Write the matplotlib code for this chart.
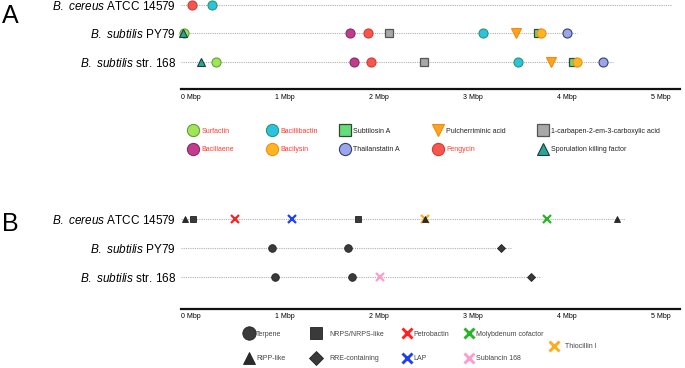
import matplotlib
matplotlib.use('Agg')
import matplotlib.pyplot as plt
from matplotlib.lines import Line2D

plt.rcParams['font.family'] = 'Liberation Sans'
plt.rcParams['mathtext.fontset'] = 'custom'
plt.rcParams['mathtext.it'] = 'Liberation Sans:italic'
plt.rcParams['mathtext.rm'] = 'Liberation Sans'

W, H = 685, 368

strains = [r'$\it{B.\ cereus}$ ATCC 14579', r'$\it{B.\ subtilis}$ PY79', r'$\it{B.\ subtilis}$ str. 168']
mbp_ticks = [0, 1, 2, 3, 4, 5]
mbp_labels = ['0 Mbp', '1 Mbp', '2 Mbp', '3 Mbp', '4 Mbp', '5 Mbp']

# panel A - known compounds (positions in Mbp)
cereus_a_pos = [0.12, 0.33]
cereus_a_cls = ['Fengycin', 'Bacillibactin']
py79_a_pos = [0.035, 0.02, 1.80, 1.99, 2.21, 3.21, 3.56, 3.80, 3.83, 4.11]
py79_a_cls = ['Surfactin', 'Sporulation killing factor', 'Bacillaene', 'Fengycin',
              '1-carbapen-2-em-3-carboxylic acid', 'Bacillibactin', 'Pulcherriminic acid',
              'Subtilosin A', 'Bacilysin', 'Thailanstatin A']
s168_a_pos = [0.37, 0.21, 1.84, 2.02, 2.59, 3.59, 3.94, 4.17, 4.21, 4.49]
s168_a_cls = ['Surfactin', 'Sporulation killing factor', 'Bacillaene', 'Fengycin',
              '1-carbapen-2-em-3-carboxylic acid', 'Bacillibactin', 'Pulcherriminic acid',
              'Subtilosin A', 'Bacilysin', 'Thailanstatin A']
a_line_end = [5.22, 4.21, 4.60]

# panel B - antiSMASH cluster types
cereus_b_pos = [0.04, 0.13, 0.57, 1.18, 1.88, 2.60, 2.60, 3.89, 4.64]
cereus_b_cls = ['RiPP-like', 'NRPS/NRPS-like', 'Petrobactin', 'LAP', 'NRPS/NRPS-like',
                'Thiocillin I', 'RiPP-like', 'Molybdenum cofactor', 'RiPP-like']
py79_b_pos = [0.97, 1.78, 3.40]
py79_b_cls = ['Terpene', 'Terpene', 'RRE-containing']
s168_b_pos = [1.00, 1.82, 2.12, 3.72]
s168_b_cls = ['Terpene', 'Terpene', 'Sublancin 168', 'RRE-containing']
b_line_end = [4.72, 3.52, 3.83]

legend_a_cols = [['Surfactin', 'Bacillaene'], ['Bacillibactin', 'Bacilysin'],
                 ['Subtilosin A', 'Thailanstatin A'], ['Pulcherriminic acid', 'Fengycin'],
                 ['1-carbapen-2-em-3-carboxylic acid', 'Sporulation killing factor']]
legend_b_cols = [['Terpene', 'RiPP-like'], ['NRPS/NRPS-like', 'RRE-containing'],
                 ['Petrobactin', 'LAP'], ['Molybdenum cofactor', 'Sublancin 168'],
                 ['Thiocillin I']]
red_labels = ['Surfactin', 'Bacillibactin', 'Bacillaene', 'Bacilysin', 'Fengycin']

# styles: marker, face, edge, size, edge width, zorder
style = {
    'Surfactin': ('o', '#a3e35a', '#5aa62e', 6.5, 0.8, 3),
    'Bacillibactin': ('o', '#2bc2e6', '#2a9a5e', 6.5, 0.8, 3),
    'Subtilosin A': ('s', '#66dd7a', '#2f4a30', 6.0, 0.9, 3),
    'Pulcherriminic acid': ('v', '#ffa41f', '#f08a10', 6.5, 0.8, 3),
    '1-carbapen-2-em-3-carboxylic acid': ('s', '#a8a8a8', '#555555', 6.0, 0.9, 3),
    'Bacillaene': ('o', '#c23c8e', '#8a2a66', 6.5, 0.8, 3),
    'Bacilysin': ('o', '#ffb424', '#f09010', 6.5, 0.8, 4),
    'Thailanstatin A': ('o', '#98a6ee', '#3b3f63', 6.5, 0.8, 3),
    'Fengycin': ('o', '#f7564e', '#d23a34', 6.5, 0.8, 3),
    'Sporulation killing factor': ('^', '#2aa59a', '#1d3d3a', 6.0, 0.8, 4),
    'Terpene': ('o', '#3a3a3a', '#222222', 5.5, 0.6, 3),
    'NRPS/NRPS-like': ('s', '#3a3a3a', '#222222', 5.0, 0.6, 3),
    'RiPP-like': ('^', '#2a2a2a', '#222222', 5.0, 0.6, 4),
    'RRE-containing': ('D', '#3a3a3a', '#222222', 4.0, 0.6, 3),
    'Petrobactin': ('x', '#ff2020', '#ff2020', 6.0, 1.6, 3),
    'LAP': ('x', '#1f3dff', '#1f3dff', 6.0, 1.6, 3),
    'Molybdenum cofactor': ('x', '#26b526', '#26b526', 6.0, 1.6, 3),
    'Thiocillin I': ('x', '#ffab1a', '#ffab1a', 6.0, 1.6, 3),
    'Sublancin 168': ('x', '#ff9ccc', '#ff9ccc', 6.0, 1.6, 3),
}

fig = plt.figure(figsize=(W / 100, H / 100), dpi=100)


def draw_panel(rect, rows, line_end, ylim):
    ax = fig.add_axes(rect)
    for i, (pos, cls) in enumerate(rows):
        ax.hlines(i, 0, line_end[i], colors='#b0b0b0', linestyles=(0, (1, 1)),
                  lw=0.8, zorder=1)
        for p, c in zip(pos, cls):
            m, fc, ec, ms, mew, z = style[c]
            ax.plot(p, i, ls='none', marker=m, ms=ms, mfc=fc, mec=ec, mew=mew,
                    zorder=z, clip_on=False)
    ax.set_xlim(0, 499 / 94)
    ax.set_ylim(*ylim)
    for s in ['top', 'right', 'left']:
        ax.spines[s].set_visible(False)
    ax.spines['bottom'].set_linewidth(1.6)
    ax.spines['bottom'].set_color('#111111')
    ax.set_yticks(range(len(strains)))
    ax.set_yticklabels(strains, fontsize=8.5)
    ax.tick_params(axis='y', length=0, pad=3.6)
    ax.set_xticks(mbp_ticks)
    ax.set_xticklabels(mbp_labels, fontsize=5, ha='left')
    ax.tick_params(axis='x', length=0, pad=3.5)
    return ax


rows_a = [(cereus_a_pos, cereus_a_cls), (py79_a_pos, py79_a_cls), (s168_a_pos, s168_a_cls)]
rows_b = [(cereus_b_pos, cereus_b_cls), (py79_b_pos, py79_b_cls), (s168_b_pos, s168_b_cls)]

draw_panel([181 / W, 1 - 89 / H, 499 / W, 89 / H], rows_a, a_line_end, (2.947, -0.175))
draw_panel([181 / W, 1 - 308.5 / H, 499 / W, 108.5 / H], rows_b, b_line_end, (3.096, -0.678))

fig.text(10 / W, 1 - 16 / H, 'A', fontsize=18, ha='center', va='center')
fig.text(10 / W, 1 - 224 / H, 'B', fontsize=18, ha='center', va='center')


def add_legend(names, x_px, y_px, ms_scale, textpad, spacing, grey=False):
    handles = []
    for n in names:
        m, fc, ec, ms, mew, z = style[n]
        handles.append(Line2D([], [], ls='none', marker=m, ms=ms * ms_scale, mfc=fc,
                              mec=ec, mew=mew * (1.3 if m == 'x' else 1)))
    if grey:
        colors = ['#444444'] * len(names)
    else:
        colors = ['#ff3b30' if n in red_labels else '#222222' for n in names]
    fig.legend(handles, names, loc='center left',
               bbox_to_anchor=((x_px - 4.5) / W, 1 - y_px / H),
               frameon=False, fontsize=5, handlelength=1.3, handletextpad=textpad,
               labelspacing=spacing, borderpad=0, borderaxespad=0, labelcolor=colors)


legend_a_x = [193, 272, 345, 438, 543]
for col, x in zip(legend_a_cols, legend_a_x):
    add_legend(col, x, 140.5, 1.35, 0.55, 1.65)

legend_b_x = [249, 316, 407, 469, 554]
legend_b_pad = [0.4, 1.3, 0.3, 0.3, 0.9]
legend_b_scale = [1.75, 1.75, 1.1, 1.1, 1.1]
for col, x, tp, sc in zip(legend_b_cols, legend_b_x, legend_b_pad, legend_b_scale):
    add_legend(col, x, 346.5, sc, tp, 2.5, grey=True)

fig.savefig('out.png', dpi=100)
